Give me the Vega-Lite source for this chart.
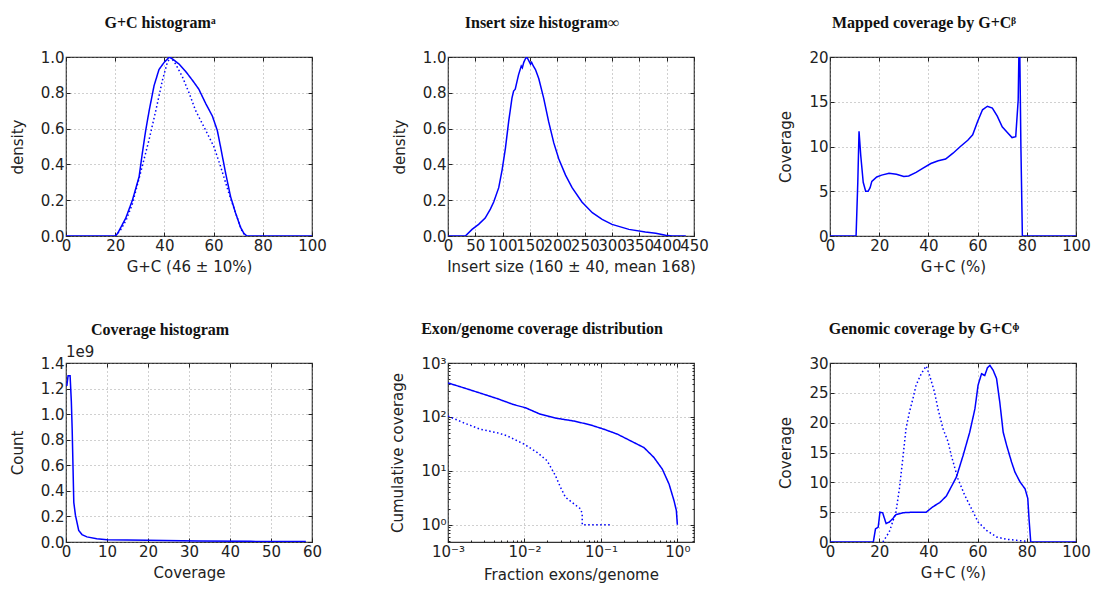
{
  "$schema": "https://vega.github.io/schema/vega-lite/v6.json",
  "padding": {"left": 9, "top": 14, "right": 5, "bottom": 5},
  "columns": 3,
  "spacing": {"row": 127, "column": 136},
  "bounds": "flush",
  "config": {
    "view": {"stroke": "#333", "strokeWidth": 1.2},
    "axis": {"domain": false, "labelFont": "DejaVu Sans", "labelFontSize": 15, "labelColor": "#222", "titleFont": "DejaVu Sans", "titleFontSize": 15, "titleFontWeight": "normal", "titleColor": "#222", "tickColor": "#222", "tickSize": -4, "labelPadding": 6, "gridColor": "#888", "gridDash": [1, 3], "gridWidth": 0.8, "labelFlush": false, "labelOverlap": false, "titlePadding": 6},
    "axisY": {"titlePadding": 15},
    "title": {"font": "Liberation Serif", "fontSize": 16, "fontWeight": "bold", "color": "#111", "anchor": "middle", "frame": "group", "offset": 19, "dx": -29},
    "line": {"color": "#0000ff", "strokeWidth": 1.5}
  },
  "concat": [
    {
      "width": 246, "height": 179,
      "title": {"text": "G+C histogramᵃ"},
      "data": {"values": [
        {"x":0,"y":0,"s":"solid"},{"x":20,"y":0,"s":"solid"},{"x":21,"y":0.015,"s":"solid"},{"x":24.3,"y":0.1,"s":"solid"},{"x":27,"y":0.2,"s":"solid"},{"x":29.7,"y":0.33,"s":"solid"},{"x":31,"y":0.46,"s":"solid"},{"x":32.4,"y":0.59,"s":"solid"},{"x":33.8,"y":0.7,"s":"solid"},{"x":35.8,"y":0.84,"s":"solid"},{"x":37.8,"y":0.93,"s":"solid"},{"x":39.9,"y":0.97,"s":"solid"},{"x":42,"y":1.0,"s":"solid"},{"x":43.2,"y":0.99,"s":"solid"},{"x":46,"y":0.96,"s":"solid"},{"x":48.6,"y":0.92,"s":"solid"},{"x":51.4,"y":0.87,"s":"solid"},{"x":54,"y":0.82,"s":"solid"},{"x":56.8,"y":0.74,"s":"solid"},{"x":59.5,"y":0.67,"s":"solid"},{"x":61.5,"y":0.59,"s":"solid"},{"x":62.8,"y":0.5,"s":"solid"},{"x":64.9,"y":0.35,"s":"solid"},{"x":66.9,"y":0.22,"s":"solid"},{"x":68.9,"y":0.13,"s":"solid"},{"x":70.9,"y":0.05,"s":"solid"},{"x":72.3,"y":0.015,"s":"solid"},{"x":73.5,"y":0,"s":"solid"},{"x":100,"y":0,"s":"solid"},
        {"x":20,"y":0,"s":"dotted"},{"x":22,"y":0.03,"s":"dotted"},{"x":24.5,"y":0.09,"s":"dotted"},{"x":27,"y":0.18,"s":"dotted"},{"x":31,"y":0.39,"s":"dotted"},{"x":33.8,"y":0.54,"s":"dotted"},{"x":36.5,"y":0.7,"s":"dotted"},{"x":39.2,"y":0.87,"s":"dotted"},{"x":41.2,"y":0.97,"s":"dotted"},{"x":42.6,"y":1.0,"s":"dotted"},{"x":44.6,"y":0.96,"s":"dotted"},{"x":47.3,"y":0.89,"s":"dotted"},{"x":50,"y":0.8,"s":"dotted"},{"x":52.7,"y":0.7,"s":"dotted"},{"x":56.8,"y":0.59,"s":"dotted"},{"x":60.1,"y":0.5,"s":"dotted"},{"x":62.8,"y":0.39,"s":"dotted"},{"x":66.2,"y":0.24,"s":"dotted"},{"x":68.9,"y":0.13,"s":"dotted"},{"x":71.6,"y":0.025,"s":"dotted"},{"x":73,"y":0,"s":"dotted"}
      ]},
      "layer": [
        {"mark": {"type": "line", "clip": true},
         "encoding": {
           "x": {"field": "x", "type": "quantitative", "scale": {"domain": [0, 100], "nice": false}, "axis": {"title": "G+C (46 ± 10%)", "values": [0,20,40,60,80,100], "grid": true}},
           "y": {"field": "y", "type": "quantitative", "scale": {"domain": [0, 1], "nice": false}, "axis": {"title": "density", "values": [0,0.2,0.4,0.6,0.8,1], "format": ".1f", "grid": true}},
           "strokeDash": {"field": "s", "type": "nominal", "scale": {"domain": ["solid","dotted"], "range": [[1,0],[1.5,2.5]]}, "legend": null}
         }},
        {"mark": {"type": "line", "opacity": 0},
         "encoding": {
           "x": {"field": "x", "type": "quantitative", "axis": {"orient": "top", "labels": false, "title": null, "grid": false, "values": [0,20,40,60,80,100]}},
           "y": {"field": "y", "type": "quantitative", "axis": {"orient": "right", "labels": false, "title": null, "grid": false, "values": [0,0.2,0.4,0.6,0.8,1]}}
         }}
      ],
      "resolve": {"axis": {"x": "independent", "y": "independent"}}
    },
    {
      "width": 246, "height": 179,
      "title": {"text": "Insert size histogram∞"},
      "data": {"values": [
        {"x":0,"y":0},{"x":31.7,"y":0},{"x":44,"y":0.037},{"x":56,"y":0.065},{"x":68,"y":0.1},{"x":77.5,"y":0.15},{"x":83.6,"y":0.19},{"x":92.8,"y":0.27},{"x":99,"y":0.37},{"x":105,"y":0.49},{"x":111,"y":0.64},{"x":117,"y":0.77},{"x":120,"y":0.81},{"x":123,"y":0.82},{"x":129,"y":0.9},{"x":134,"y":0.95},{"x":136,"y":0.94},{"x":138.6,"y":0.97},{"x":141.6,"y":0.99},{"x":144,"y":1.0},{"x":147.7,"y":0.98},{"x":151,"y":0.96},{"x":153,"y":0.97},{"x":156,"y":0.95},{"x":160,"y":0.93},{"x":166,"y":0.88},{"x":175,"y":0.77},{"x":184,"y":0.64},{"x":193.5,"y":0.52},{"x":202.7,"y":0.43},{"x":215,"y":0.34},{"x":227,"y":0.27},{"x":245,"y":0.19},{"x":264,"y":0.13},{"x":282,"y":0.093},{"x":300,"y":0.065},{"x":331,"y":0.037},{"x":361,"y":0.022},{"x":380,"y":0.015},{"x":398,"y":0.004},{"x":410,"y":0},{"x":435,"y":0}
      ]},
      "layer": [
        {"mark": {"type": "line", "clip": true},
         "encoding": {
           "x": {"field": "x", "type": "quantitative", "scale": {"domain": [0, 450], "nice": false}, "axis": {"title": "Insert size (160 ± 40, mean 168)", "values": [0,50,100,150,200,250,300,350,400,450], "grid": true}},
           "y": {"field": "y", "type": "quantitative", "scale": {"domain": [0, 1], "nice": false}, "axis": {"title": "density", "values": [0,0.2,0.4,0.6,0.8,1], "format": ".1f", "grid": true}}
         }},
        {"mark": {"type": "line", "opacity": 0},
         "encoding": {
           "x": {"field": "x", "type": "quantitative", "axis": {"orient": "top", "labels": false, "title": null, "grid": false, "values": [0,50,100,150,200,250,300,350,400,450]}},
           "y": {"field": "y", "type": "quantitative", "axis": {"orient": "right", "labels": false, "title": null, "grid": false, "values": [0,0.2,0.4,0.6,0.8,1]}}
         }}
      ],
      "resolve": {"axis": {"x": "independent", "y": "independent"}}
    },
    {
      "width": 246, "height": 179,
      "title": {"text": "Mapped coverage by G+Cᵝ"},
      "data": {"values": [
        {"x":0,"y":0},{"x":10.6,"y":0},{"x":11.3,"y":6},{"x":11.8,"y":11.7},{"x":12.5,"y":9},{"x":13.5,"y":6},{"x":14.5,"y":5.0},{"x":15.5,"y":5.0},{"x":16.3,"y":5.4},{"x":17,"y":6.1},{"x":19,"y":6.6},{"x":21,"y":6.8},{"x":24,"y":7.0},{"x":27,"y":6.9},{"x":30,"y":6.65},{"x":32,"y":6.7},{"x":35,"y":7.1},{"x":38,"y":7.6},{"x":41,"y":8.1},{"x":44,"y":8.4},{"x":47,"y":8.6},{"x":50,"y":9.25},{"x":53,"y":10.0},{"x":56,"y":10.7},{"x":58,"y":11.3},{"x":60,"y":12.8},{"x":62,"y":14.1},{"x":64,"y":14.5},{"x":66,"y":14.3},{"x":68,"y":13.4},{"x":70,"y":12.2},{"x":72,"y":11.6},{"x":74,"y":11.0},{"x":75.5,"y":11.1},{"x":76.5,"y":15.2},{"x":77,"y":24},{"x":77.6,"y":10},{"x":78.2,"y":0},{"x":100,"y":0}
      ]},
      "layer": [
        {"mark": {"type": "line", "clip": true},
         "encoding": {
           "x": {"field": "x", "type": "quantitative", "scale": {"domain": [0, 100], "nice": false}, "axis": {"title": "G+C (%)", "values": [0,20,40,60,80,100], "grid": true}},
           "y": {"field": "y", "type": "quantitative", "scale": {"domain": [0, 20], "nice": false}, "axis": {"title": "Coverage", "values": [0,5,10,15,20], "grid": true}}
         }},
        {"mark": {"type": "line", "opacity": 0, "clip": true},
         "encoding": {
           "x": {"field": "x", "type": "quantitative", "axis": {"orient": "top", "labels": false, "title": null, "grid": false, "values": [0,20,40,60,80,100]}},
           "y": {"field": "y", "type": "quantitative", "axis": {"orient": "right", "labels": false, "title": null, "grid": false, "values": [0,5,10,15,20]}}
         }}
      ],
      "resolve": {"axis": {"x": "independent", "y": "independent"}}
    },
    {
      "width": 246, "height": 179,
      "title": {"text": "Coverage histogram", "offset": 7},
      "data": {"values": [
        {"x":0.2,"y":1220000000},{"x":0.5,"y":1300000000},{"x":1.0,"y":1300000000},{"x":1.3,"y":1100000000},{"x":1.5,"y":890000000},{"x":1.9,"y":310000000},{"x":2.3,"y":210000000},{"x":3.1,"y":90000000},{"x":3.9,"y":58000000},{"x":5.1,"y":40000000},{"x":7.5,"y":26000000},{"x":10,"y":18000000},{"x":19.7,"y":13000000},{"x":32.7,"y":8000000},{"x":45,"y":5000000},{"x":58.5,"y":3000000}
      ]},
      "layer": [
        {"mark": {"type": "line", "clip": true},
         "encoding": {
           "x": {"field": "x", "type": "quantitative", "scale": {"domain": [0, 60], "nice": false}, "axis": {"title": "Coverage", "values": [0,10,20,30,40,50,60], "grid": true}},
           "y": {"field": "y", "type": "quantitative", "scale": {"domain": [0, 1400000000], "nice": false}, "axis": {"title": "Count", "values": [0,200000000,400000000,600000000,800000000,1000000000,1200000000,1400000000], "labelExpr": "format(datum.value/1e9, '.1f')", "grid": true}}
         }},
        {"data": {"values": [{"x": 0, "y": 1400000000, "t": "1e9"}]},
         "mark": {"type": "text", "align": "left", "baseline": "bottom", "dy": -3, "font": "DejaVu Sans", "fontSize": 15, "color": "#222"},
         "encoding": {
           "x": {"field": "x", "type": "quantitative", "axis": {"orient": "top", "labels": false, "title": null, "grid": false, "values": [0,10,20,30,40,50,60]}},
           "y": {"field": "y", "type": "quantitative", "axis": {"orient": "right", "labels": false, "title": null, "grid": false, "values": [0,200000000,400000000,600000000,800000000,1000000000,1200000000,1400000000]}},
           "text": {"field": "t", "type": "nominal"}
         }}
      ],
      "resolve": {"axis": {"x": "independent", "y": "independent"}}
    },
    {
      "width": 246, "height": 179,
      "title": {"text": "Exon/genome coverage distribution"},
      "data": {"values": [
        {"x":0.001,"y":427,"s":"solid"},{"x":0.0016,"y":347,"s":"solid"},{"x":0.00265,"y":276,"s":"solid"},{"x":0.00439,"y":219,"s":"solid"},{"x":0.00724,"y":169,"s":"solid"},{"x":0.0103,"y":148,"s":"solid"},{"x":0.0162,"y":112,"s":"solid"},{"x":0.0268,"y":94,"s":"solid"},{"x":0.0443,"y":84,"s":"solid"},{"x":0.0733,"y":71,"s":"solid"},{"x":0.11,"y":59,"s":"solid"},{"x":0.164,"y":48,"s":"solid"},{"x":0.245,"y":36,"s":"solid"},{"x":0.366,"y":27,"s":"solid"},{"x":0.494,"y":17.7,"s":"solid"},{"x":0.635,"y":10.8,"s":"solid"},{"x":0.778,"y":5.7,"s":"solid"},{"x":0.904,"y":2.8,"s":"solid"},{"x":0.97,"y":1.84,"s":"solid"},{"x":1.0,"y":1,"s":"solid"},
        {"x":0.001,"y":104,"s":"dotted"},{"x":0.0016,"y":78,"s":"dotted"},{"x":0.00265,"y":59,"s":"dotted"},{"x":0.00439,"y":51,"s":"dotted"},{"x":0.00593,"y":44.6,"s":"dotted"},{"x":0.01,"y":31,"s":"dotted"},{"x":0.0147,"y":21.9,"s":"dotted"},{"x":0.0198,"y":15.4,"s":"dotted"},{"x":0.0255,"y":8.1,"s":"dotted"},{"x":0.0296,"y":4.96,"s":"dotted"},{"x":0.0344,"y":3.24,"s":"dotted"},{"x":0.042,"y":2.6,"s":"dotted"},{"x":0.0542,"y":1.97,"s":"dotted"},{"x":0.0569,"y":1.6,"s":"dotted"},{"x":0.057,"y":1.0,"s":"dotted"},{"x":0.134,"y":1.0,"s":"dotted"}
      ]},
      "layer": [
        {"mark": {"type": "line", "clip": true},
         "encoding": {
           "x": {"field": "x", "type": "quantitative", "scale": {"type": "log", "domain": [0.001, 1.65], "nice": false}, "axis": {"title": "Fraction exons/genome", "values": [0.001,0.002,0.003,0.004,0.005,0.006,0.007,0.008,0.009,0.01,0.02,0.03,0.04,0.05,0.06,0.07,0.08,0.09,0.1,0.2,0.3,0.4,0.5,0.6,0.7,0.8,0.9,1], "labelExpr": "datum.value == 0.001 ? '10⁻³' : datum.value == 0.01 ? '10⁻²' : datum.value == 0.1 ? '10⁻¹' : datum.value == 1 ? '10⁰' : ''", "grid": true, "gridOpacity": {"condition": {"test": "indexof([0.001,0.01,0.1,1], datum.value) >= 0", "value": 1}, "value": 0}, "tickSize": {"condition": {"test": "indexof([0.001,0.01,0.1,1], datum.value) >= 0", "value": -4}, "value": -2}}},
           "y": {"field": "y", "type": "quantitative", "scale": {"type": "log", "domain": [0.48, 1000], "nice": false}, "axis": {"title": "Cumulative coverage", "values": [0.5,0.6,0.7,0.8,0.9,1,2,3,4,5,6,7,8,9,10,20,30,40,50,60,70,80,90,100,200,300,400,500,600,700,800,900,1000], "labelExpr": "datum.value == 1 ? '10⁰' : datum.value == 10 ? '10¹' : datum.value == 100 ? '10²' : datum.value == 1000 ? '10³' : ''", "grid": true, "gridOpacity": {"condition": {"test": "indexof([1,10,100,1000], datum.value) >= 0", "value": 1}, "value": 0}, "tickSize": {"condition": {"test": "indexof([1,10,100,1000], datum.value) >= 0", "value": -4}, "value": -2}}},
           "strokeDash": {"field": "s", "type": "nominal", "scale": {"domain": ["solid","dotted"], "range": [[1,0],[1.5,2.5]]}, "legend": null}
         }},
        {"mark": {"type": "line", "opacity": 0},
         "encoding": {
           "x": {"field": "x", "type": "quantitative", "axis": {"orient": "top", "labels": false, "title": null, "grid": false, "values": [0.001,0.002,0.003,0.004,0.005,0.006,0.007,0.008,0.009,0.01,0.02,0.03,0.04,0.05,0.06,0.07,0.08,0.09,0.1,0.2,0.3,0.4,0.5,0.6,0.7,0.8,0.9,1], "tickSize": {"condition": {"test": "indexof([0.001,0.01,0.1,1], datum.value) >= 0", "value": -4}, "value": -2}}},
           "y": {"field": "y", "type": "quantitative", "axis": {"orient": "right", "labels": false, "title": null, "grid": false, "values": [0.5,0.6,0.7,0.8,0.9,1,2,3,4,5,6,7,8,9,10,20,30,40,50,60,70,80,90,100,200,300,400,500,600,700,800,900,1000], "tickSize": {"condition": {"test": "indexof([1,10,100,1000], datum.value) >= 0", "value": -4}, "value": -2}}}
         }}
      ],
      "resolve": {"axis": {"x": "independent", "y": "independent"}}
    },
    {
      "width": 246, "height": 179,
      "title": {"text": "Genomic coverage by G+Cᶲ"},
      "data": {"values": [
        {"x":0,"y":0,"s":"solid"},{"x":17.6,"y":0,"s":"solid"},{"x":18.5,"y":2.2,"s":"solid"},{"x":19.6,"y":2.5,"s":"solid"},{"x":20.3,"y":5.0,"s":"solid"},{"x":21.4,"y":4.9,"s":"solid"},{"x":22.8,"y":3.1,"s":"solid"},{"x":24.1,"y":3.35,"s":"solid"},{"x":25.5,"y":3.9,"s":"solid"},{"x":26.8,"y":4.6,"s":"solid"},{"x":29.6,"y":4.9,"s":"solid"},{"x":33.7,"y":5.0,"s":"solid"},{"x":39.1,"y":5.0,"s":"solid"},{"x":41.8,"y":5.9,"s":"solid"},{"x":44.6,"y":6.6,"s":"solid"},{"x":47.3,"y":7.7,"s":"solid"},{"x":50,"y":9.8,"s":"solid"},{"x":51.4,"y":10.9,"s":"solid"},{"x":54.1,"y":14.5,"s":"solid"},{"x":56.8,"y":18.4,"s":"solid"},{"x":58.9,"y":22.3,"s":"solid"},{"x":60.2,"y":26.3,"s":"solid"},{"x":61.6,"y":28.2,"s":"solid"},{"x":62.9,"y":27.9,"s":"solid"},{"x":64,"y":29.2,"s":"solid"},{"x":65,"y":29.6,"s":"solid"},{"x":66.3,"y":28.8,"s":"solid"},{"x":67.7,"y":27.4,"s":"solid"},{"x":69,"y":23.5,"s":"solid"},{"x":70.4,"y":18.4,"s":"solid"},{"x":71.8,"y":16.2,"s":"solid"},{"x":73.8,"y":13.4,"s":"solid"},{"x":75.2,"y":11.7,"s":"solid"},{"x":77.2,"y":10.1,"s":"solid"},{"x":79.3,"y":8.9,"s":"solid"},{"x":80.4,"y":7.3,"s":"solid"},{"x":80.9,"y":3.9,"s":"solid"},{"x":81.6,"y":0,"s":"solid"},{"x":100,"y":0,"s":"solid"},
        {"x":21.5,"y":0,"s":"dotted"},{"x":24.1,"y":1.7,"s":"dotted"},{"x":26.8,"y":5.0,"s":"dotted"},{"x":28.2,"y":8.9,"s":"dotted"},{"x":29.6,"y":14,"s":"dotted"},{"x":30.9,"y":19,"s":"dotted"},{"x":32.3,"y":21.8,"s":"dotted"},{"x":33.7,"y":24,"s":"dotted"},{"x":35,"y":26.3,"s":"dotted"},{"x":37.1,"y":28.2,"s":"dotted"},{"x":39.1,"y":29.5,"s":"dotted"},{"x":40.5,"y":27.9,"s":"dotted"},{"x":42.5,"y":25.1,"s":"dotted"},{"x":43.9,"y":22.3,"s":"dotted"},{"x":45.9,"y":19,"s":"dotted"},{"x":48,"y":16.8,"s":"dotted"},{"x":49.3,"y":14.5,"s":"dotted"},{"x":52,"y":10.6,"s":"dotted"},{"x":54.8,"y":7.8,"s":"dotted"},{"x":57.5,"y":5.6,"s":"dotted"},{"x":60.2,"y":3.35,"s":"dotted"},{"x":63.6,"y":1.96,"s":"dotted"},{"x":67.7,"y":0.84,"s":"dotted"},{"x":71.8,"y":0.45,"s":"dotted"},{"x":75.9,"y":0.28,"s":"dotted"},{"x":80,"y":0.1,"s":"dotted"}
      ]},
      "layer": [
        {"mark": {"type": "line", "clip": true},
         "encoding": {
           "x": {"field": "x", "type": "quantitative", "scale": {"domain": [0, 100], "nice": false}, "axis": {"title": "G+C (%)", "values": [0,20,40,60,80,100], "grid": true}},
           "y": {"field": "y", "type": "quantitative", "scale": {"domain": [0, 30], "nice": false}, "axis": {"title": "Coverage", "values": [0,5,10,15,20,25,30], "grid": true}},
           "strokeDash": {"field": "s", "type": "nominal", "scale": {"domain": ["solid","dotted"], "range": [[1,0],[1.5,2.5]]}, "legend": null}
         }},
        {"mark": {"type": "line", "opacity": 0},
         "encoding": {
           "x": {"field": "x", "type": "quantitative", "axis": {"orient": "top", "labels": false, "title": null, "grid": false, "values": [0,20,40,60,80,100]}},
           "y": {"field": "y", "type": "quantitative", "axis": {"orient": "right", "labels": false, "title": null, "grid": false, "values": [0,5,10,15,20,25,30]}}
         }}
      ],
      "resolve": {"axis": {"x": "independent", "y": "independent"}}
    }
  ]
}
